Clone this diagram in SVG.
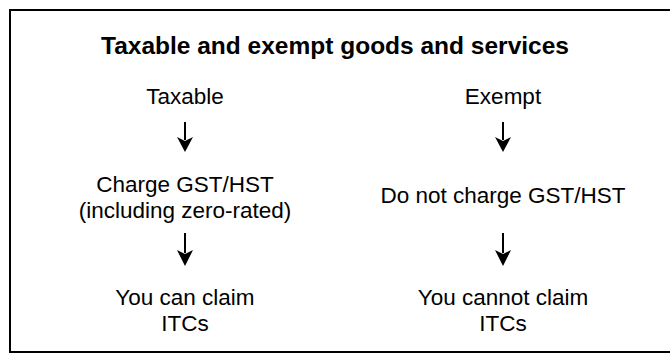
<svg xmlns="http://www.w3.org/2000/svg" width="670" height="354" viewBox="0 0 670 354">
<defs>
<style>
.t{font-family:"Liberation Sans",Arial,Helvetica,sans-serif;font-size:22.5px;fill:#000;text-anchor:middle}
.title{font-weight:bold;font-size:24.5px}
.sh{stroke:#000;stroke-width:2;fill:none}
.hd{fill:#000;stroke:none}
</style>
<marker id="ah" viewBox="0 0 16 16" refX="8" refY="16" markerWidth="16" markerHeight="16" markerUnits="userSpaceOnUse" orient="auto-start-reverse">
<path d="M0,0 L8,4 L16,0 L8,16 Z" class="hd"/>
</marker>
</defs>
<rect x="0" y="0" width="670" height="354" fill="#fff"/>
<rect x="10" y="10" width="680" height="342" fill="none" stroke="#000" stroke-width="2"/>
<g id="title"><text class="t title" x="335" y="54">Taxable and exempt goods and services</text></g>
<g id="taxable"><text class="t" x="185" y="104">Taxable</text></g>
<g id="exempt"><text class="t" x="503" y="104">Exempt</text></g>
<g id="charge"><text class="t" x="185" y="192">Charge GST/HST</text><text class="t" x="185" y="218">(including zero-rated)</text></g>
<g id="nocharge"><text class="t" x="503" y="203">Do not charge GST/HST</text></g>
<g id="canclaim"><text class="t" x="185" y="305">You can claim</text><text class="t" x="185" y="331">ITCs</text></g>
<g id="cannotclaim"><text class="t" x="503" y="305">You cannot claim</text><text class="t" x="503" y="331">ITCs</text></g>
<g id="connectors">
<line class="sh" x1="185" y1="122" x2="185" y2="140"/><path class="hd" d="M177,137 L185,141 L193,137 L185,152 Z"/>
<line class="sh" x1="503" y1="122" x2="503" y2="140"/><path class="hd" d="M495,137 L503,141 L511,137 L503,152 Z"/>
<line class="sh" x1="185" y1="233" x2="185" y2="253"/><path class="hd" d="M177,250 L185,254 L193,250 L185,266 Z"/>
<line class="sh" x1="503" y1="233" x2="503" y2="253"/><path class="hd" d="M495,250 L503,254 L511,250 L503,266 Z"/>
</g>
</svg>
